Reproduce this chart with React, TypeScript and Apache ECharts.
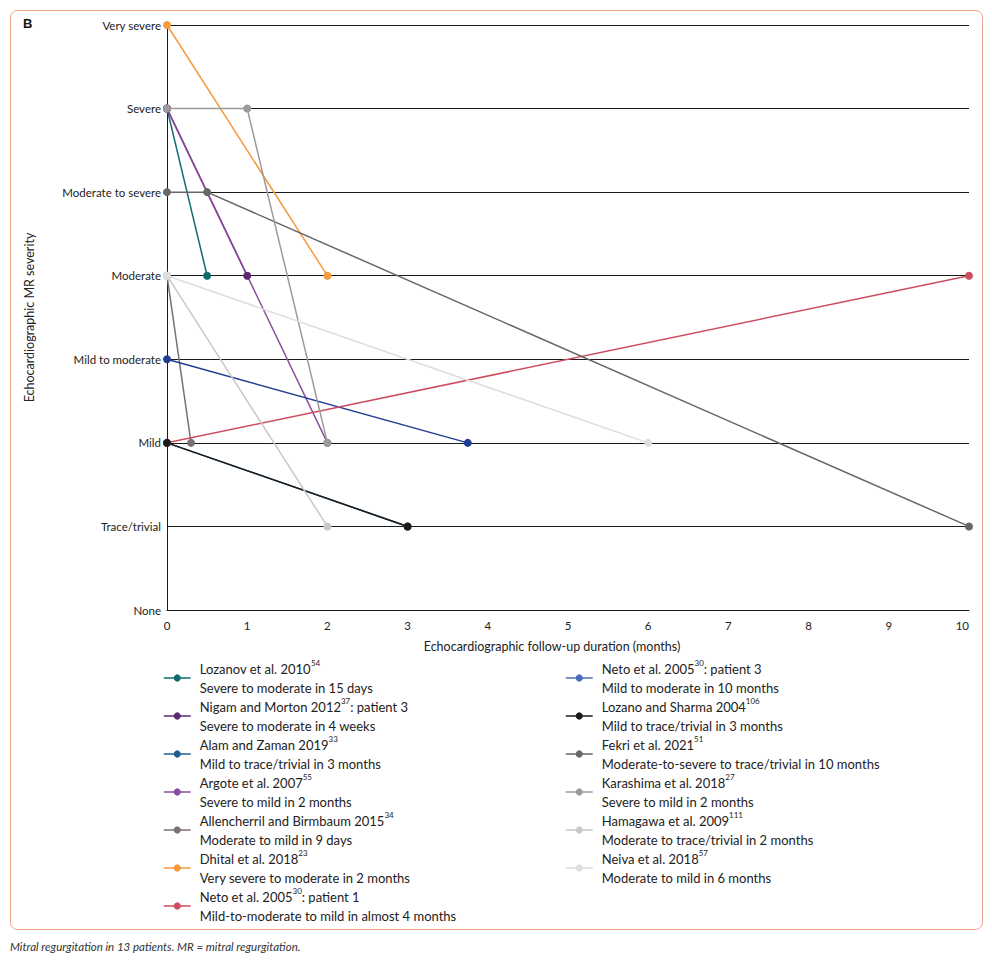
import React, { useEffect, useRef } from "react";
import * as echarts from "echarts";

const severityLevels = [
  "None",
  "Trace/trivial",
  "Mild",
  "Mild to moderate",
  "Moderate",
  "Moderate to severe",
  "Severe",
  "Very severe",
];

const studyAuthors = [
  "Lozanov et al. 2010",
  "Nigam and Morton 2012",
  "Alam and Zaman 2019",
  "Argote et al. 2007",
  "Allencherril and Birmbaum 2015",
  "Dhital et al. 2018",
  "Neto et al. 2005",
  "Neto et al. 2005",
  "Lozano and Sharma 2004",
  "Fekri et al. 2021",
  "Karashima et al. 2018",
  "Hamagawa et al. 2009",
  "Neiva et al. 2018",
];
const studyRefs = ["54", "37", "33", "55", "34", "23", "30", "30", "106", "51", "27", "111", "57"];
const studySuffixes = ["", ": patient 3", "", "", "", "", ": patient 1", ": patient 3", "", "", "", "", ""];
const studyNotes = [
  "Severe to moderate in 15 days",
  "Severe to moderate in 4 weeks",
  "Mild to trace/trivial in 3 months",
  "Severe to mild in 2 months",
  "Moderate to mild in 9 days",
  "Very severe to moderate in 2 months",
  "Mild-to-moderate to mild in almost 4 months",
  "Mild to moderate in 10 months",
  "Mild to trace/trivial in 3 months",
  "Moderate-to-severe to trace/trivial in 10 months",
  "Severe to mild in 2 months",
  "Moderate to trace/trivial in 2 months",
  "Moderate to mild in 6 months",
];

const followUpMonths = [
  [0, 0.5],
  [0, 1],
  [0, 3],
  [0, 2],
  [0, 0.3],
  [0, 2],
  [0, 3.75],
  [0, 10],
  [0, 3],
  [0, 0.5, 10],
  [0, 1, 2],
  [0, 2],
  [0, 6],
];
const severityPath = [
  ["Severe", "Moderate"],
  ["Severe", "Moderate"],
  ["Mild", "Trace/trivial"],
  ["Severe", "Mild"],
  ["Moderate", "Mild"],
  ["Very severe", "Moderate"],
  ["Mild to moderate", "Mild"],
  ["Mild", "Moderate"],
  ["Mild", "Trace/trivial"],
  ["Moderate to severe", "Moderate to severe", "Trace/trivial"],
  ["Severe", "Severe", "Mild"],
  ["Moderate", "Trace/trivial"],
  ["Moderate", "Mild"],
];

const lineColors = [
  "#0f6b6e", "#5b2a72", "#215f92", "#8c4b9d", "#7c7078", "#f7993c", "#203d92",
  "#cd4d5e", "#1b1b1b", "#676767", "#9b9b9b", "#c8c8c8", "#dedede",
];
const legendColors = [
  "#0f6b6e", "#5b2a72", "#215f92", "#8c4b9d", "#7c7078", "#f7993c", "#cd4d5e",
  "#4a6cb8", "#1b1b1b", "#676767", "#9b9b9b", "#c8c8c8", "#dedede",
];

const FONT = "Lato";

export default function App() {
  const ref = useRef<HTMLDivElement>(null);
  useEffect(() => {
    document.body.style.margin = "0";
    const chart = echarts.init(ref.current!, null, { renderer: "svg" });
    const seriesNames = studyAuthors.map((a, i) => a + studySuffixes[i]);

    const series = seriesNames.map((name, i) => ({
      name,
      type: "line",
      symbol: "circle",
      symbolSize: 8,
      color: lineColors[i],
      lineStyle: { width: 1.5, color: lineColors[i] },
      itemStyle: { color: lineColors[i] },
      data: followUpMonths[i].map((m, j) => [m, severityLevels.indexOf(severityPath[i][j])]),
    }));

    const legendFormatter = (name: string) => {
      const i = seriesNames.indexOf(name);
      let first = `{a|${studyAuthors[i]}}{s|${studyRefs[i]}}`;
      if (studySuffixes[i]) first += `{a|${studySuffixes[i]}}`;
      return `${first}\n{a|${studyNotes[i]}}`;
    };

    const legendText = {
      fontFamily: FONT,
      fontSize: 13,
      color: "#222",
      lineHeight: 19,
      padding: [0, 0, 0, 4],
      rich: {
        a: { fontFamily: FONT, fontSize: 13, color: "#222", lineHeight: 19 },
        s: { fontFamily: FONT, fontSize: 8, color: "#222", lineHeight: 15, verticalAlign: "top" },
      },
    };

    const makeLegend = (from: number, to: number, left: number) => ({
      show: true,
      orient: "vertical",
      left,
      top: 659,
      padding: 0,
      itemGap: 0,
      itemWidth: 27,
      itemHeight: 9,
      selectedMode: false,
      formatter: legendFormatter,
      textStyle: legendText,
      data: seriesNames.slice(from, to).map((n, k) => ({
        name: n,
        itemStyle: { color: legendColors[from + k] },
        lineStyle: { color: legendColors[from + k], width: 1.5 },
      })),
    });

    const option: any = {
      animation: false,
      backgroundColor: "#fff",
      textStyle: { fontFamily: FONT },
      grid: { left: 167, right: 23, top: 25, bottom: 353, outerBoundsMode: "none" },
      xAxis: {
        type: "value",
        min: 0,
        max: 10,
        interval: 1,
        name: "Echocardiographic follow-up duration (months)",
        nameLocation: "middle",
        nameGap: 30,
        nameTextStyle: { fontFamily: FONT, fontSize: 12.5, color: "#222", padding: [0, 32, 0, 0] },
        axisLine: { show: true, lineStyle: { color: "#1a1a1a", width: 1 } },
        axisTick: { show: false },
        splitLine: { show: false },
        axisLabel: { fontFamily: FONT, fontSize: 11.5, color: "#222", margin: 9, alignMaxLabel: "right" },
      },
      yAxis: {
        type: "value",
        min: 0,
        max: 7,
        interval: 1,
        name: "Echocardiographic MR severity",
        nameLocation: "middle",
        nameGap: 131,
        nameTextStyle: { fontFamily: FONT, fontSize: 12.5, color: "#222" },
        axisLine: { show: true, lineStyle: { color: "#1a1a1a", width: 1 } },
        axisTick: { show: false },
        splitLine: { show: true, lineStyle: { color: "#1a1a1a", width: 1 } },
        axisLabel: {
          fontFamily: FONT,
          fontSize: 11.5,
          color: "#222",
          margin: 6,
          formatter: (v: number) => severityLevels[v] ?? "",
        },
      },
      legend: [makeLegend(0, 7, 163), makeLegend(7, 13, 565)],
      graphic: [
        {
          type: "rect",
          shape: { x: 10.5, y: 10.5, width: 972, height: 919, r: 7 },
          style: { fill: "none", stroke: "#f0a48a", lineWidth: 1 },
          silent: true,
        },
        {
          type: "text",
          left: 23,
          top: 17,
          style: { text: "B", fontFamily: "Liberation Sans", fontWeight: "bold", fontSize: 13, fill: "#111" },
        },
        {
          type: "text",
          left: 10,
          top: 940,
          style: {
            text: "Mitral regurgitation in 13 patients. MR = mitral regurgitation.",
            fontFamily: FONT,
            fontStyle: "italic",
            fontSize: 11.5,
            fill: "#333",
          },
        },
      ],
      series,
    };
    chart.setOption(option);
    return () => chart.dispose();
  }, []);
  return <div ref={ref} style={{ width: 992, height: 963 }} />;
}
